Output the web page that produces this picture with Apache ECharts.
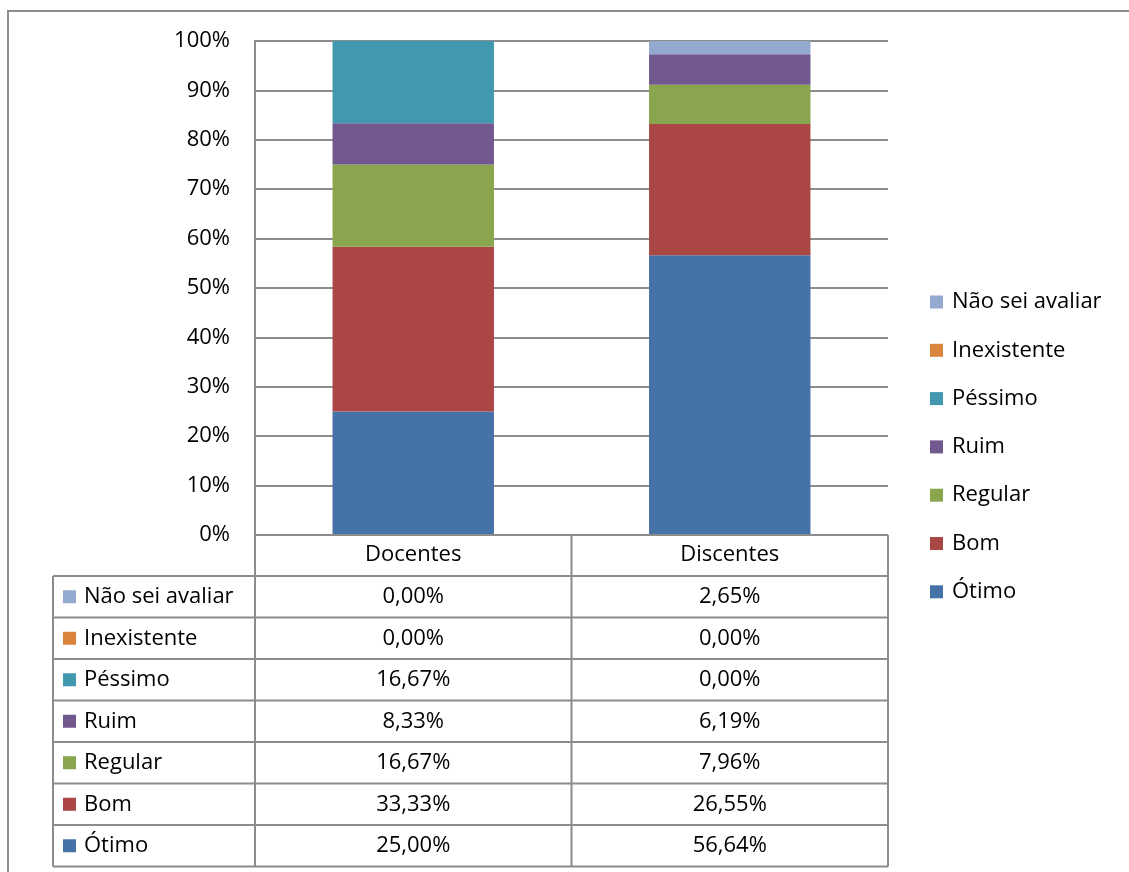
<!DOCTYPE html>
<html><head><meta charset="utf-8">
<script src="https://cdn.jsdelivr.net/npm/echarts@6/dist/echarts.min.js"></script>
<style>html,body{margin:0;padding:0;background:#fff}#c{width:1129px;height:872px}</style>
</head><body><div id="c"></div>
<script>
const categories = ['Docentes', 'Discentes'];
const seriesNames = ['Ótimo', 'Bom', 'Regular', 'Ruim', 'Péssimo', 'Inexistente', 'Não sei avaliar'];
const otimo = [25.00, 56.64];
const bom = [33.33, 26.55];
const regular = [16.67, 7.96];
const ruim = [8.33, 6.19];
const pessimo = [16.67, 0.00];
const inexistente = [0.00, 0.00];
const naoSei = [0.00, 2.65];
const yTicks = [0, 10, 20, 30, 40, 50, 60, 70, 80, 90, 100];
const colors = ['#4572A7', '#AA4643', '#89A54E', '#71588F', '#4198AF', '#DB843D', '#93A9CF'];

const values = [otimo, bom, regular, ruim, pessimo, inexistente, naoSei];
const FONT = '"Open Sans", sans-serif';
const FS = 22;
const LINE = '#8c8c8c';

const chart = echarts.init(document.getElementById('c'));
const G = {left: 255, right: 241, top: 41, bottom: 337};
const W = 1129, H = 872;

const series = seriesNames.map((n, i) => ({
  name: n, type: 'bar', stack: 'total', barWidth: '51%',
  data: values[i], itemStyle: {color: colors[i]}
}));

chart.setOption({
  animation: false,
  textStyle: {fontFamily: FONT},
  grid: G,
  xAxis: {type: 'category', data: categories,
    axisLine: {show: false}, axisTick: {show: false},
    axisLabel: {fontFamily: FONT, fontSize: FS, color: '#000', margin: 9}},
  yAxis: {type: 'value', min: 0, max: 100, interval: 10,
    axisLine: {show: true, lineStyle: {color: LINE, width: 2}},
    axisTick: {show: false},
    splitLine: {lineStyle: {color: LINE, width: 2}},
    axisLabel: {fontFamily: FONT, fontSize: FS, color: '#000', margin: 25,
      formatter: v => yTicks.includes(v) ? v + '%' : ''}},
  legend: {orient: 'vertical', left: 930, top: 291, padding: 0, itemWidth: 13, itemHeight: 13,
    itemGap: 26.3, data: seriesNames.slice().reverse(),
    textStyle: {fontFamily: FONT, fontSize: FS, color: '#000', padding: [0, 0, 0, 4]},
    icon: 'rect'},
  series
});

// data table
const x0 = 53, xL = G.left, xR = W - G.right;
const yTop = H - G.bottom;
const headerBottom = 576, rowH = 41.5;
const xMid = chart.convertToPixel({xAxisIndex: 0}, categories[1]);
const colEdge = (chart.convertToPixel({xAxisIndex: 0}, categories[0]) + xMid) / 2;
const gfx = [];
const L = (x1, y1, x2, y2) => gfx.push({type: 'line', shape: {x1, y1, x2, y2}, style: {stroke: LINE, lineWidth: 2}, z: 10});
const rowOrder = seriesNames.slice().reverse();
const nRows = rowOrder.length;
const yBot = headerBottom + nRows * rowH;
// outer frame
gfx.push({type: 'rect', shape: {x: 8, y: 11, width: 1200, height: 1000}, style: {fill: 'none', stroke: LINE, lineWidth: 2}});
L(xL, yTop, xR, yTop);
for (let r = 0; r <= nRows; r++) L(x0, headerBottom + r * rowH, xR, headerBottom + r * rowH);
L(x0, headerBottom, x0, yBot);
L(xL, yTop, xL, yBot);
L(colEdge, yTop, colEdge, yBot);
L(xR, yTop, xR, yBot);
rowOrder.forEach((name, r) => {
  const si = seriesNames.indexOf(name);
  const cy = headerBottom + r * rowH + rowH / 2;
  gfx.push({type: 'rect', shape: {x: 63, y: cy - 6.5, width: 13, height: 13}, style: {fill: colors[si]}});
  gfx.push({type: 'text', x: 84, y: cy, style: {text: name, font: FS + 'px ' + FONT, fill: '#000', textVerticalAlign: 'middle', verticalAlign: 'middle'}});
  categories.forEach((c, ci) => {
    const cx = chart.convertToPixel({xAxisIndex: 0}, c);
    const txt = values[si][ci].toFixed(2).replace('.', ',') + '%';
    gfx.push({type: 'text', x: cx, y: cy, style: {text: txt, font: FS + 'px ' + FONT, fill: '#000', align: 'center', textAlign: 'center', verticalAlign: 'middle', textVerticalAlign: 'middle'}});
  });
});
chart.setOption({graphic: gfx});
</script></body></html>
